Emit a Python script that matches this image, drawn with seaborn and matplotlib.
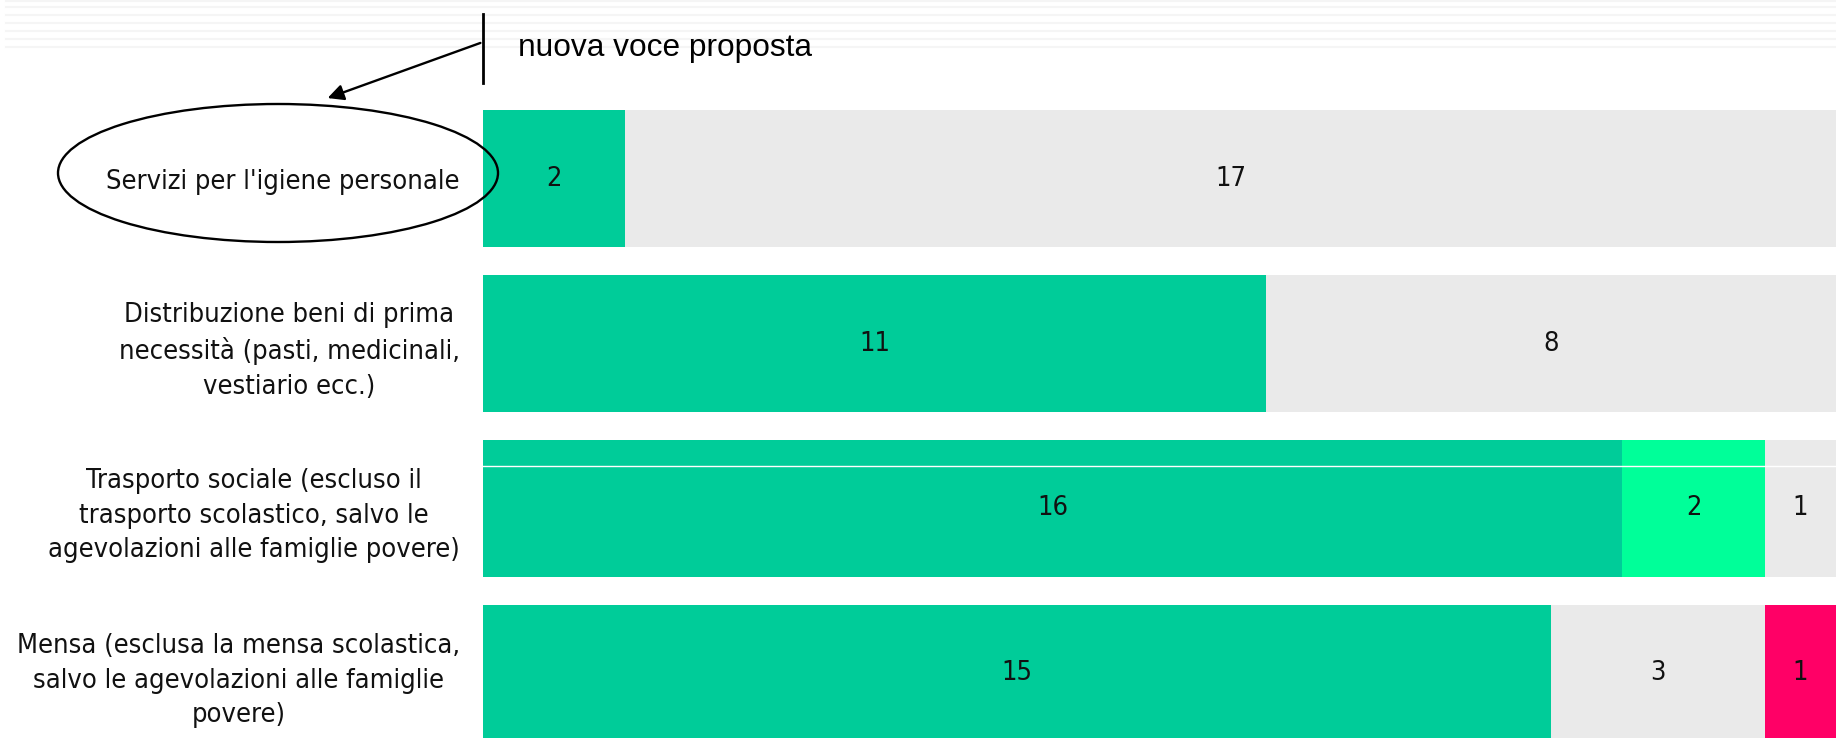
import matplotlib
matplotlib.use("Agg")
import matplotlib.pyplot as plt
import seaborn as sns
import pandas as pd
from matplotlib import font_manager
from matplotlib.lines import Line2D
from matplotlib.patches import Ellipse, FancyArrowPatch

# Data
categories = [
    "Servizi per l'igiene personale",
    "Distribuzione beni di prima\nnecessità (pasti, medicinali,\nvestiario ecc.)",
    "Trasporto sociale (escluso il\ntrasporto scolastico, salvo le\nagevolazioni alle famiglie povere)",
    "Mensa (esclusa la mensa scolastica,\nsalvo le agevolazioni alle famiglie\npovere)",
]
verde = [2, 11, 16, 15]
verde_chiaro = [0, 0, 2, 0]
grigio = [17, 8, 1, 3]
rosso = [0, 0, 0, 1]
annotation = "nuova voce proposta"

series = [verde, verde_chiaro, grigio, rosso]
colors = ["#00CC99", "#00FF99", "#EAEAEA", "#FF0066"]

W, H = 1836, 738
fig = plt.figure(figsize=(W / 100, H / 100), dpi=100)


def px(x, y):
    # pixel position (from top-left) -> figure fraction
    return x / W, 1 - y / H


# label font: Tahoma-like
has_cond = any(f.name == "DejaVu Sans" and str(f.stretch) in ("condensed", "semi-condensed")
               for f in font_manager.fontManager.ttflist)
lab_size = 19.5 if has_cond else 17.5
lab_font = dict(family="DejaVu Sans", stretch="condensed" if has_cond else "normal", size=lab_size)

# faint stripes at the top
for yy in [1, 7, 15, 23, 31, 39, 47]:
    fig.add_artist(Line2D([6 / W, 1], [1 - yy / H] * 2, color="#f5f5f5", lw=1.5, zorder=0))

ax = fig.add_axes([483 / W, 0, 1 - 483 / W, 1])
ax.patch.set_alpha(0)

df = pd.DataFrame({"cat": categories})
cum = [0] * len(categories)
cums = []
for s in series:
    cum = [c + v for c, v in zip(cum, s)]
    cums.append(cum)

# stacked: draw cumulative totals from the last segment backwards
for k in range(len(series) - 1, -1, -1):
    df["val"] = cums[k]
    sns.barplot(data=df, x="val", y="cat", orient="h", color=colors[k],
                saturation=1, width=0.83, ax=ax)

# segment values
for i in range(len(categories)):
    start = 0
    for s in series:
        v = s[i]
        if v > 0:
            ax.text(start + v / 2, i, str(v), ha="center", va="center",
                    color="#111111", **lab_font)
        start += v

ax.set_xlim(0, 19)
ax.set_ylim(3.391, -1.082)
ax.set_xlabel("")
ax.set_ylabel("")
ax.set_xticks([])
for sp in ax.spines.values():
    sp.set_visible(False)
ax.tick_params(axis="y", length=0, pad=16.6)
for t in ax.get_yticklabels():
    t.set_fontfamily(lab_font["family"])
    t.set_fontstretch(lab_font["stretch"])
    t.set_fontsize(lab_size)
    t.set_multialignment("center")
    t.set_linespacing(1.42)
    t.set_color("#111111")

# thin white artefact line across the third bar
fig.add_artist(Line2D([483 / W, 1], [1 - 466 / H] * 2, color="white", lw=1, zorder=3))

# annotation
fig.add_artist(Line2D([483 / W] * 2, [1 - 14 / H, 1 - 83 / H], color="black", lw=2, zorder=5))
fig.text(*px(518, 56), annotation, family="Liberation Sans", size=22.8,
         va="baseline", ha="left", color="black")
fig.add_artist(FancyArrowPatch(px(483, 42), px(325, 99), transform=fig.transFigure,
                               arrowstyle="-|>", mutation_scale=24, lw=1.7,
                               color="black", zorder=5))
fig.add_artist(Ellipse(px(278, 173), 440 / W, 138 / H, transform=fig.transFigure,
                       fill=False, lw=1.7, edgecolor="black", zorder=5))

fig.savefig("out.png", dpi=100)
